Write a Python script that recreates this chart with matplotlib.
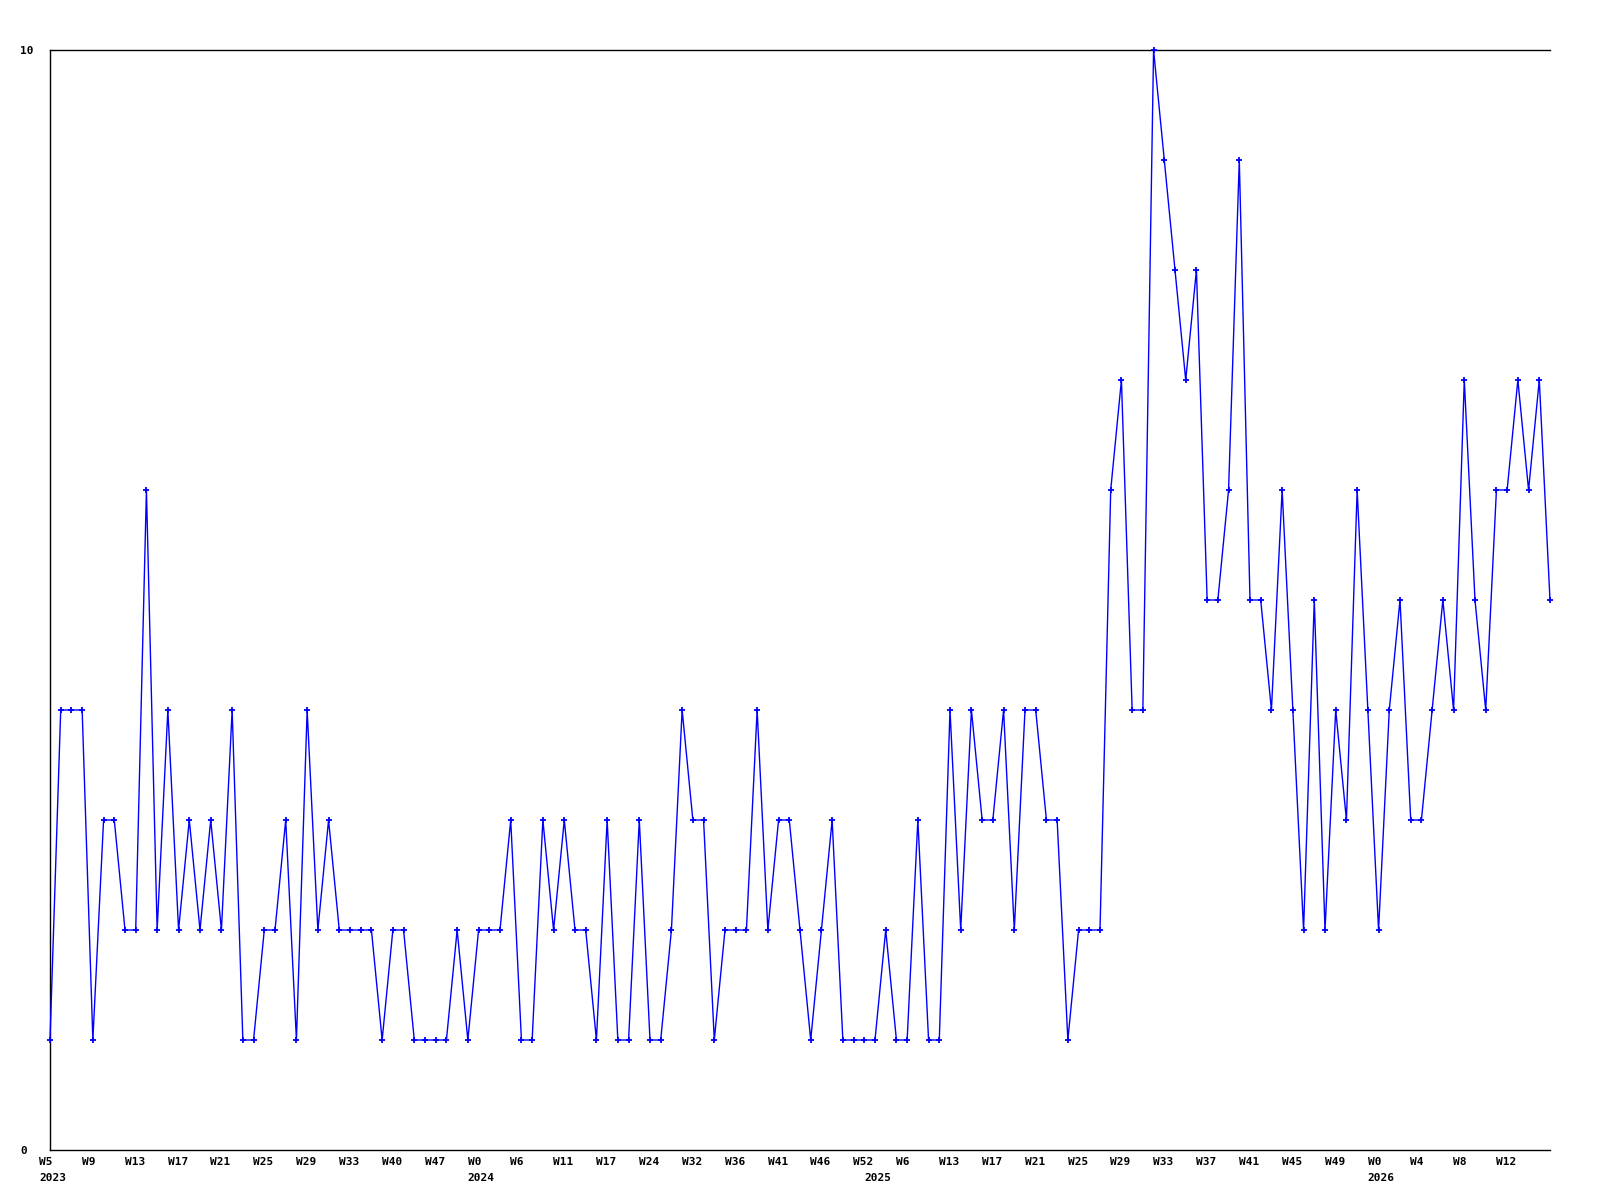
import matplotlib
matplotlib.use("Agg")
import matplotlib.pyplot as plt
import matplotlib.transforms as mtransforms

# ---- data ----
values = [1, 4, 4, 4, 1, 3, 3, 2, 2, 6,
          2, 4, 2, 3, 2, 3, 2, 4, 1, 1,
          2, 2, 3, 1, 4, 2, 3, 2, 2, 2,
          2, 1, 2, 2, 1, 1, 1, 1, 2, 1,
          2, 2, 2, 3, 1, 1, 3, 2, 3, 2,
          2, 1, 3, 1, 1, 3, 1, 1, 2, 4,
          3, 3, 1, 2, 2, 2, 4, 2, 3, 3,
          2, 1, 2, 3, 1, 1, 1, 1, 2, 1,
          1, 3, 1, 1, 4, 2, 4, 3, 3, 4,
          2, 4, 4, 3, 3, 1, 2, 2, 2, 6,
          7, 4, 4, 10, 9, 8, 7, 8, 5, 5,
          6, 9, 5, 5, 4, 6, 4, 2, 5, 2,
          4, 3, 6, 4, 2, 4, 5, 3, 3, 4,
          5, 4, 7, 5, 4, 6, 6, 7, 6, 7,
          5]
week_labels = ["W5", "W9", "W13", "W17", "W21", "W25", "W29", "W33", "W40", "W47",
               "W0", "W6", "W11", "W17", "W24", "W32", "W36", "W41", "W46", "W52",
               "W6", "W13", "W17", "W21", "W25", "W29", "W33", "W37", "W41", "W45",
               "W49", "W0", "W4", "W8", "W12"]
week_label_step = 4
year_labels = ["2023", "2024", "2025", "2026"]
year_label_index = [0, 40, 77, 124]
y_labels = ["0", "10"]
y_label_values = [0, 10]

W, H, DPI = 1600, 1200, 100
fig = plt.figure(figsize=(W / DPI, H / DPI), dpi=DPI, facecolor="white")
ax = fig.add_axes([50 / W, 50 / H, 1500 / W, 1100 / H])

x = list(range(len(values)))
ax.plot(x, values, color="#0000ff", lw=1.0, marker="+", ms=4, mew=1.3,
        clip_on=False, zorder=3)

ax.set_xlim(0, len(values) - 1)
ax.set_ylim(0, 10)
ax.set_xticks([])
ax.set_yticks([])
for s in ("left", "top", "bottom"):
    ax.spines[s].set_color("black")
    ax.spines[s].set_linewidth(1.0)
ax.spines["right"].set_visible(False)

font = dict(family="DejaVu Sans Mono", fontweight="bold", fontsize=8, color="black")

# x labels
xtr = ax.get_xaxis_transform() + mtransforms.ScaledTranslation(-11 / DPI, 0, fig.dpi_scale_trans)
for k, lab in enumerate(week_labels):
    ax.text(k * week_label_step, 0, lab,
            transform=xtr + mtransforms.ScaledTranslation(0, -12 / DPI, fig.dpi_scale_trans),
            ha="left", va="center", **font)
for idx, lab in zip(year_label_index, year_labels):
    ax.text(idx, 0, lab,
            transform=xtr + mtransforms.ScaledTranslation(0, -28 / DPI, fig.dpi_scale_trans),
            ha="left", va="center", **font)

# y labels
ytr = mtransforms.blended_transform_factory(fig.transFigure, ax.transData)
for v, lab in zip(y_label_values, y_labels):
    ax.text(20 / W, v, lab, transform=ytr + mtransforms.ScaledTranslation(0, -1 / DPI, fig.dpi_scale_trans),
            ha="left", va="center", **font)

fig.savefig("out.png", dpi=DPI, facecolor="white")
